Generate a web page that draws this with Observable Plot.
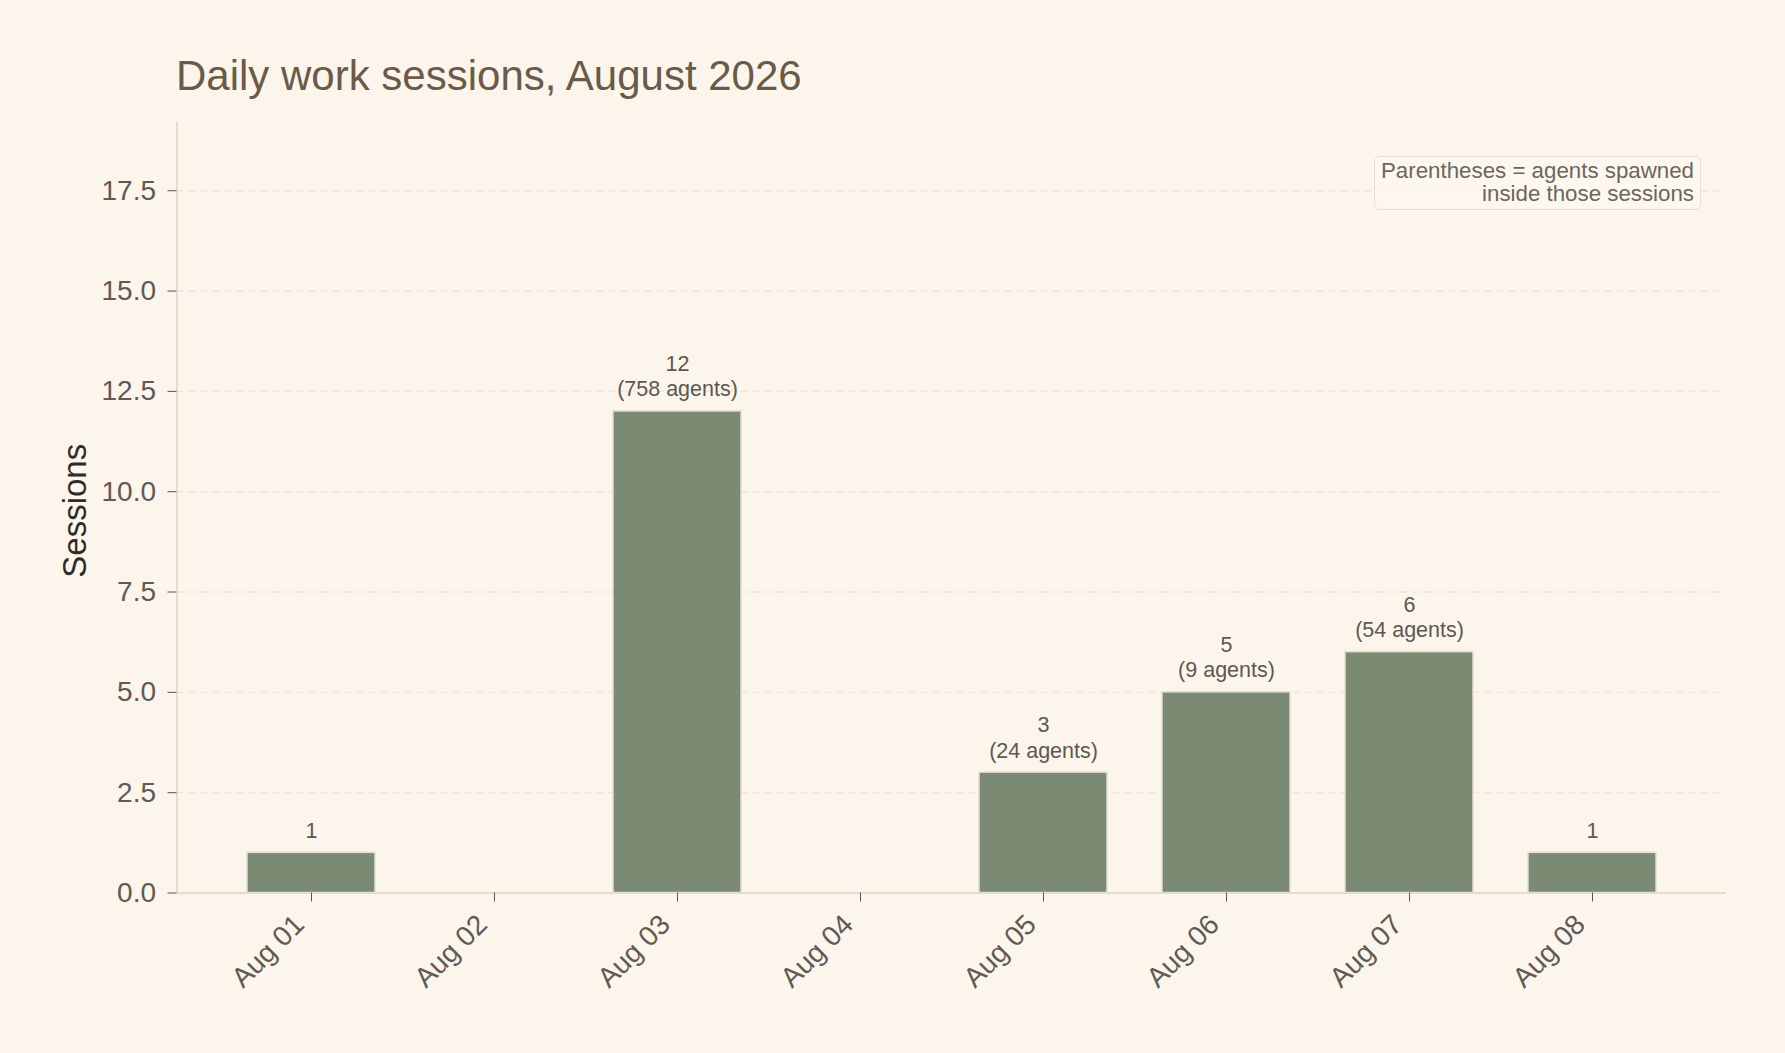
<!DOCTYPE html>
<html>
<head>
<meta charset="utf-8">
<script src="https://cdn.jsdelivr.net/npm/d3@7"></script>
<script src="https://cdn.jsdelivr.net/npm/@observablehq/plot@0.6"></script>
<style>
  html, body { margin: 0; padding: 0; background: #fcf5eb; }
  #wrap { position: relative; width: 1785px; height: 1053px; font-family: "Liberation Sans", Arial, Helvetica, sans-serif; }
  #title { position: absolute; left: 176px; top: 55px; font-size: 42px; line-height: 42px; color: #6b5a48; white-space: nowrap; }
  #note { position: absolute; right: 84px; top: 156px; font-size: 22.3px; line-height: 23px; color: #6b675e;
          text-align: right; padding: 2px 6px 4px 6px; border: 1.5px solid #e6dfd2; border-radius: 6px;
          background: rgba(253, 248, 240, 0.8); white-space: nowrap; }
</style>
</head>
<body>
<div id="wrap">
  <div id="chart"></div>
  <div id="title">Daily work sessions, August 2026</div>
  <div id="note">Parentheses = agents spawned<br>inside those sessions</div>
</div>
<script>
const days = ["Aug 01", "Aug 02", "Aug 03", "Aug 04", "Aug 05", "Aug 06", "Aug 07", "Aug 08"];
const sessions = [1, 0, 12, 0, 3, 5, 6, 1];
const agents = [0, 0, 758, 0, 24, 9, 54, 0];
const yTicks = [0, 2.5, 5, 7.5, 10, 12.5, 15, 17.5];
const yMax = 19.2;

const data = days.map((d, i) => ({day: d, sessions: sessions[i], agents: agents[i]}));
const shown = data.filter(d => d.sessions > 0);
const labelOf = d => d.agents > 0 ? `${d.sessions}\n(${d.agents} agents)` : `${d.sessions}`;

const chart = Plot.plot({
  width: 1785,
  height: 1053,
  marginLeft: 176.5,
  marginRight: 59,
  marginTop: 122,
  marginBottom: 160.5,
  style: {background: "transparent", fontFamily: "'Liberation Sans', Arial, Helvetica, sans-serif", fontSize: "28px", color: "#5f5a54"},
  x: {domain: days, paddingInner: 0.3, paddingOuter: 0.38, label: null},
  y: {domain: [0, yMax], label: null},
  marks: [
    Plot.gridY(yTicks.filter(t => t > 0), {stroke: "#efe6d8", strokeOpacity: 1, strokeWidth: 1.4, strokeDasharray: "7,5"}),
    Plot.barY(shown, {x: "day", y: "sessions", fill: "#7a8a73", stroke: "#e4ded1", strokeWidth: 1.5}),
    Plot.ruleY([0], {stroke: "#e3dccf", strokeWidth: 2}),
    Plot.frame({anchor: "left", stroke: "#e3dccf", strokeWidth: 2}),
    Plot.axisY({ticks: yTicks, tickFormat: d3.format(".1f"), tickSize: 9, tickPadding: 12, stroke: "#555", fill: "#5f5a54", fontSize: 28, label: null}),
    Plot.axisX({tickSize: 9, stroke: "#555", fill: "none", label: null}),
    Plot.axisX({tickRotate: -45, tickSize: 9, tickPadding: 14, stroke: "none", fill: "#5f5a54", fontSize: 28, dx: -12, dy: 4, label: null}),
    Plot.text(shown, {x: "day", y: "sessions", text: labelOf, dy: -15, lineAnchor: "bottom", lineHeight: 1.18, fontSize: 21.5, fill: "#5c5852"}),
    Plot.text(["Sessions"], {frameAnchor: "left", dx: -102, dy: 3, rotate: -90, textAnchor: "middle", text: d => d, fontSize: 33, fill: "#2e2b28"})
  ]
});
document.getElementById("chart").appendChild(chart);
</script>
</body>
</html>
